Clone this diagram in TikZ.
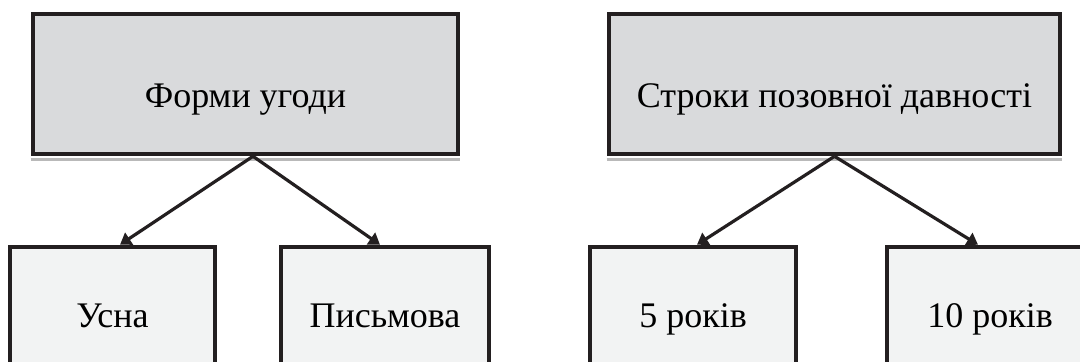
\documentclass[tikz,border=0pt]{standalone}
\usepackage{fontspec}
\setmainfont{Liberation Serif}
\usetikzlibrary{arrows.meta,positioning,calc}
\definecolor{headfill}{RGB}{217,218,220}
\definecolor{leaffill}{RGB}{242,243,243}
\definecolor{edge}{RGB}{35,31,32}

\begin{document}
\begin{tikzpicture}[
    x=0.5pt, y=-0.5pt,
    every node/.style={font=\fontsize{18}{20}\selectfont},
    head/.style={draw=edge, line width=2.3pt, fill=headfill, minimum width=212.5pt, minimum height=70pt, text height=23pt, text depth=0pt, anchor=center},
    leaf/.style={draw=edge, line width=2.3pt, fill=leaffill, minimum width=103pt, minimum height=70pt, text height=10pt, text depth=0pt, anchor=center},
    shade/.style={gray!55, line width=1.5pt},
    link/.style={-{Triangle[length=5.5pt,width=7pt]}, line width=1.6pt, edge}
]
\useasboundingbox (0,0) rectangle (1080,361);
\clip (0,0) rectangle (1080,361);

% Headings
\node [head] (forms) at (245.5,84) {Форми угоди};
\node [head, minimum width=225.5pt] (terms) at (834.5,84) {Строки позовної давності};

\draw[shade] ([yshift=-1.6pt]forms.south west) -- ([yshift=-1.6pt]forms.south east);
\draw[shade] ([yshift=-1.6pt]terms.south west) -- ([yshift=-1.6pt]terms.south east);

% Leaves
\node [leaf, minimum width=102.5pt] (oral) at (112.5,317) {Усна};
\node [leaf, minimum width=104pt] (written) at (385,317) {Письмова};
\node [leaf] (five) at (693,317) {5 років};
\node [leaf] (ten) at (990,317) {10 років};

% Arrows
\draw[link] ([xshift=3.75pt]forms.south) -- ([xshift=3.75pt]oral.north);
\draw[link] ([xshift=3.75pt]forms.south) -- ([xshift=-2.5pt]written.north);
\draw[link] (terms.south) -- ([xshift=2pt]five.north);
\draw[link] (terms.south) -- ([xshift=-6pt]ten.north);

\end{tikzpicture}
\end{document}
